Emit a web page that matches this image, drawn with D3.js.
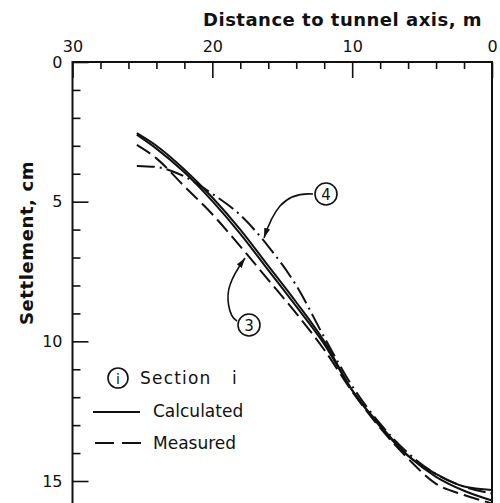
<!DOCTYPE html>
<html>
<head>
<meta charset="utf-8">
<script src="https://cdn.jsdelivr.net/npm/d3@7"></script>
<style>
  html, body { margin: 0; padding: 0; background: #fff; }
  svg { display: block; }
  text { font-family: "DejaVu Sans", sans-serif; fill: #111; }
</style>
</head>
<body>
<div id="chart"></div>
<script>
// distance to tunnel axis (m) where each curve was read
const distances = [25.4, 24, 22, 20, 18, 16, 14, 12, 10, 8, 6, 4, 2, 0];

// settlement (cm)
const calculatedA = [2.55, 3.0, 3.85, 4.85, 6.0, 7.3, 8.6, 10.0, 11.75, 13.0, 14.1, 14.75, 15.2, 15.32];
const calculatedB = [2.6, 3.1, 3.95, 4.98, 6.15, 7.45, 8.75, 10.1, 11.75, 13.05, 14.1, 14.85, 15.35, 15.7];
const measured3 = [2.97, 3.45, 4.45, 5.45, 6.6, 7.8, 9.0, 10.3, 11.8, 13.1, 14.2, 15.1, 15.5, 15.8];
const measured4 = [3.72, 3.76, 4.1, 4.72, 5.48, 6.6, 8.0, 9.85, 11.6, 12.95, 14.0, 14.75, 15.2, 15.45];

const xMajor = [30, 20, 10, 0];
const xMinor = [28, 26, 24, 22, 18, 16, 14, 12, 8, 6, 4, 2];
const yMajor = [0, 5, 10, 15];
const yMinor = [1, 2, 3, 4, 6, 7, 8, 9, 11, 12, 13, 14];

const W = 500, H = 503;

const svg = d3.select("#chart")
    .append("svg")
    .attr("width", W)
    .attr("height", H);

const x = d3.scaleLinear().domain([30, 0]).range([72.5, 492]);
const y = d3.scaleLinear().domain([0, 15]).range([62, 481]);

// frame (bottom is cut off by the picture)
svg.append("path")
    .attr("d", `M${x(30)},${H}V${y(0)}H${x(0)}V${H}`)
    .attr("fill", "none")
    .attr("stroke", "#111")
    .attr("stroke-width", 2);

function styleAxis(g) {
    g.select(".domain").remove();
    g.selectAll(".tick line").attr("stroke", "#111").attr("stroke-width", 1.6);
    g.selectAll(".tick text").style("font-size", "16px").attr("fill", "#111");
}

svg.append("g")
    .attr("transform", `translate(0,${y(0)})`)
    .call(d3.axisTop(x).tickValues(xMajor).tickSize(-16).tickPadding(10).tickFormat(d3.format("d")))
    .call(styleAxis);

svg.append("g")
    .attr("transform", `translate(0,${y(0)})`)
    .call(d3.axisTop(x).tickValues(xMinor).tickSize(-7).tickFormat(""))
    .call(styleAxis);

svg.append("g")
    .attr("transform", `translate(${x(30)},0)`)
    .call(d3.axisLeft(y).tickValues(yMajor).tickSize(-16).tickPadding(10).tickFormat(d3.format("d")))
    .call(styleAxis);

svg.append("g")
    .attr("transform", `translate(${x(30)},0)`)
    .call(d3.axisLeft(y).tickValues(yMinor).tickSize(-8).tickFormat(""))
    .call(styleAxis);

// titles
svg.append("text")
    .attr("x", 482)
    .attr("y", 26)
    .attr("text-anchor", "end")
    .style("font-size", "18px")
    .style("font-weight", "bold")
    .style("letter-spacing", "0.5px")
    .text("Distance to tunnel axis, m");

svg.append("text")
    .attr("transform", `translate(33,243) rotate(-90)`)
    .attr("text-anchor", "middle")
    .style("font-size", "18px")
    .style("font-weight", "bold")
    .style("letter-spacing", "0.6px")
    .text("Settlement, cm");

// curves
const line = d3.line()
    .x(d => x(d[0]))
    .y(d => y(d[1]))
    .curve(d3.curveMonotoneX);

const series = [
    { values: calculatedA, dash: null, width: 2 },
    { values: calculatedB, dash: null, width: 2 },
    { values: measured3, dash: "16,6", width: 2 },
    { values: measured4, dash: "18,5,2,5", width: 2 }
];

svg.selectAll("path.curve")
    .data(series)
    .join("path")
    .attr("class", "curve")
    .attr("d", s => line(distances.map((d, i) => [d, s.values[i]])))
    .attr("fill", "none")
    .attr("stroke", "#111")
    .attr("stroke-width", s => s.width)
    .attr("stroke-dasharray", s => s.dash);

// section labels with leaders
svg.append("defs").append("marker")
    .attr("id", "arrow")
    .attr("viewBox", "0 0 10 6")
    .attr("refX", 10)
    .attr("refY", 3)
    .attr("markerWidth", 10)
    .attr("markerHeight", 6)
    .attr("markerUnits", "userSpaceOnUse")
    .attr("orient", "auto")
    .append("path")
    .attr("d", "M0,0L10,3L0,6Z")
    .attr("fill", "#111");

const leaders = [
    { label: "3", cx: 249, cy: 325, d: "M237,321C228,316 226,296 230,285C233,275 238,268 245,258" },
    { label: "4", cx: 326, cy: 194, d: "M313,194C300,193 288,197 280,206C273,214 268,226 264,238" }
];

leaders.forEach(l => {
    svg.append("path")
        .attr("d", l.d)
        .attr("fill", "none")
        .attr("stroke", "#111")
        .attr("stroke-width", 1.6)
        .attr("marker-end", "url(#arrow)");
    svg.append("circle")
        .attr("cx", l.cx).attr("cy", l.cy).attr("r", 11)
        .attr("fill", "#fff")
        .attr("stroke", "#111")
        .attr("stroke-width", 1.6);
    svg.append("text")
        .attr("x", l.cx).attr("y", l.cy + 5.5)
        .attr("text-anchor", "middle")
        .style("font-size", "15px")
        .text(l.label);
});

// legend
const legend = svg.append("g");
legend.append("circle")
    .attr("cx", 118).attr("cy", 378).attr("r", 10)
    .attr("fill", "none").attr("stroke", "#111").attr("stroke-width", 1.6);
legend.append("text")
    .attr("x", 118).attr("y", 383.5)
    .attr("text-anchor", "middle")
    .style("font-size", "14px")
    .text("i");
legend.append("text")
    .attr("x", 140).attr("y", 384)
    .style("font-size", "17px")
    .style("letter-spacing", "1.2px")
    .text("Section");
legend.append("text")
    .attr("x", 232).attr("y", 384)
    .style("font-size", "17px")
    .text("i");

legend.append("line")
    .attr("x1", 93).attr("x2", 140).attr("y1", 412).attr("y2", 412)
    .attr("stroke", "#111").attr("stroke-width", 2);
legend.append("text")
    .attr("x", 153).attr("y", 417)
    .style("font-size", "17px")
    .text("Calculated");

legend.append("line")
    .attr("x1", 95).attr("x2", 141).attr("y1", 443).attr("y2", 443)
    .attr("stroke", "#111").attr("stroke-width", 2)
    .attr("stroke-dasharray", "19,8");
legend.append("text")
    .attr("x", 153).attr("y", 449)
    .style("font-size", "17px")
    .text("Measured");
</script>
</body>
</html>
